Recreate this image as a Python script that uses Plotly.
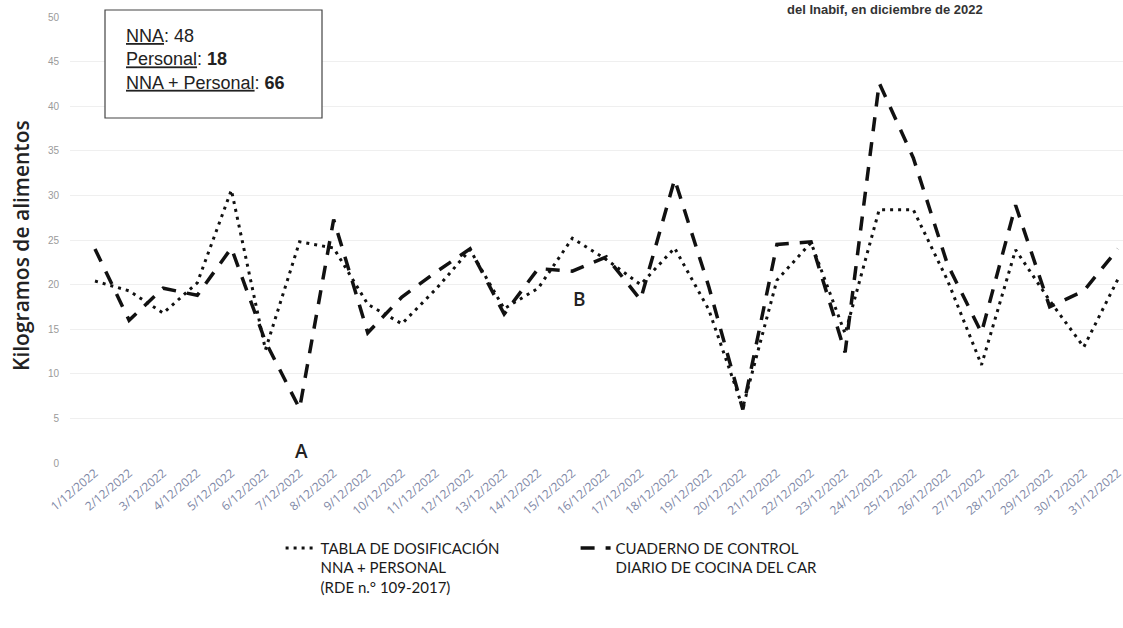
import plotly.graph_objects as go

# fechas de diciembre 2022
dias = [f"{d}/12/2022" for d in range(1, 32)]

# kg segun tabla de dosificacion (NNA + personal)
tabla = [20.4, 19.3, 16.8, 20.2, 30.6, 12.7, 24.8, 24.1, 17.8, 15.6,
         19.5, 23.9, 17.3, 19.6, 25.2, 22.8, 20.0, 24.1, 17.2, 6.2,
         20.5, 24.7, 14.5, 28.4, 28.4, 20.5, 11.0, 23.9, 18.2, 13.0, 20.6]

# kg segun cuaderno de control diario de cocina
cuaderno = [24.0, 16.0, 19.6, 18.8, 24.1, 13.6, 6.1, 27.3, 14.6, 18.6,
            21.4, 24.0, 16.7, 21.8, 21.5, 23.1, 18.3, 31.8, 19.8, 6.0,
            24.5, 24.8, 12.4, 42.6, 34.2, 22.3, 14.6, 28.9, 17.5, 19.3, 24.0]

nombre_tabla = "TABLA DE DOSIFICACIÓN<br>NNA + PERSONAL<br>(RDE n.° 109-2017)"
nombre_cuaderno = "CUADERNO DE CONTROL<br>DIARIO DE COCINA DEL CAR"

idx = list(range(len(dias)))

fig = go.Figure()
fig.add_trace(go.Scatter(
    x=idx, y=tabla, mode="lines", name=nombre_tabla,
    line=dict(color="#111111", width=3, dash="3px,5px"),
))
fig.add_trace(go.Scatter(
    x=idx, y=cuaderno, mode="lines", name=nombre_cuaderno,
    line=dict(color="#111111", width=3.5, dash="14px,11px"),
))

fig.update_layout(
    width=1123, height=628,
    margin=dict(l=70, r=0, t=17, b=165),
    plot_bgcolor="white", paper_bgcolor="white",
    font=dict(family="Liberation Sans, Arial, sans-serif", color="#222"),
    xaxis=dict(
        range=[-0.733, 30.15], automargin=False,
        tickmode="array", tickvals=idx, ticktext=dias,
        tickangle=-40, showgrid=False, zeroline=False, showline=False,
        ticklabeloverflow="allow",
        tickfont=dict(size=12, color="#8088a6", family="Open Sans, sans-serif"),
    ),
    yaxis=dict(
        range=[0, 50], dtick=5, showgrid=True, gridcolor="#efefef",
        zeroline=False, showline=False, automargin=False,
        ticklabelstandoff=10,
        tickfont=dict(size=10, color="#9a9a9a"),
    ),
    legend=dict(
        orientation="h", x=0.2, y=-0.154, xanchor="left", yanchor="top",
        valign="top", entrywidth=250,
        font=dict(size=15, color="#1a1a1a", family="Lato, Open Sans, sans-serif"),
    ),
    showlegend=True,
)

# titulo del eje y
fig.add_annotation(
    text="Kilogramos de alimentos", textangle=-90,
    xref="paper", yref="paper", x=(21 - 70) / 1053, y=(463 - 246) / 446,
    xanchor="center", yanchor="middle",
    showarrow=False, font=dict(size=21, color="#222", weight=600,
                               family="Open Sans, sans-serif"),
)

# marcas A y B
fig.add_annotation(text="A", x=6.05, y=1.3, showarrow=False,
                   font=dict(size=19, color="#222", weight=600, family="Open Sans, sans-serif"))
fig.add_annotation(text="B", x=14.2, y=18.4, showarrow=False,
                   font=dict(size=19, color="#222", weight=600, family="Open Sans, sans-serif"))

# recuadro con poblacion
fig.add_shape(type="rect", xref="paper", yref="paper",
              x0=(105 - 70) / 1053, x1=(322 - 70) / 1053,
              y0=(463 - 118) / 446, y1=(463 - 10) / 446,
              line=dict(color="#444", width=1.2), fillcolor="white")
fig.add_annotation(
    text="<u>NNA</u>: 48<br><u>Personal</u>: <b>18</b><br><u>NNA + Personal</u>: <b>66</b>",
    xref="paper", yref="paper", x=(124 - 70) / 1053, y=(463 - 24) / 446,
    xanchor="left", yanchor="top",
    align="left", showarrow=False,
    font=dict(size=18, color="#222", family="Liberation Sans Narrow, Arial Narrow, sans-serif"),
)

# titulo (recortado arriba en el original)
fig.add_annotation(
    text="<b>del Inabif, en diciembre de 2022</b>",
    xref="paper", yref="paper", x=(985 - 70) / 1053, y=1 + 17 / 446,
    xanchor="right", yanchor="top", showarrow=False,
    font=dict(size=13, color="#333"),
)

# quitar el margen del body para que la figura ocupe la ventana
fig.write_html("out.html", config={"displayModeBar": False},
               post_script="document.body.style.margin='0';")
